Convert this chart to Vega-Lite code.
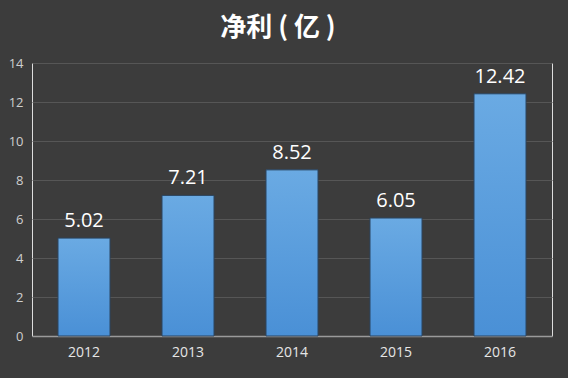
{
  "$schema": "https://vega.github.io/schema/vega-lite/v6.json",
  "autosize": "none",
  "width": 520,
  "height": 273,
  "padding": {"left": 32, "top": 63, "right": 16, "bottom": 42},
  "background": "#3c3c3c",
  "title": {
    "text": "净利 ( 亿 )",
    "font": "Noto Sans CJK SC",
    "fontSize": 26,
    "fontWeight": "bold",
    "color": "#ffffff",
    "anchor": "middle",
    "dx": -14,
    "offset": 16
  },
  "data": {
    "values": [
      {"year": "2012", "profit": 5.02},
      {"year": "2013", "profit": 7.21},
      {"year": "2014", "profit": 8.52},
      {"year": "2015", "profit": 6.05},
      {"year": "2016", "profit": 12.42}
    ]
  },
  "encoding": {
    "x": {
      "field": "year",
      "type": "nominal",
      "scale": {"paddingInner": 0.5, "paddingOuter": 0.25},
      "axis": {
        "title": null,
        "labelAngle": 0,
        "labelColor": "#e6e6e6",
        "labelFont": "Open Sans",
        "labelFontSize": 14,
        "labelPadding": 9,
        "ticks": false,
        "domainColor": "#9a9a9a",
        "domainWidth": 1.5
      }
    },
    "y": {
      "field": "profit",
      "type": "quantitative",
      "scale": {"domain": [0, 14]},
      "axis": {
        "title": null,
        "values": [0, 2, 4, 6, 8, 10, 12, 14],
        "labelColor": "#cfcfcf",
        "labelFont": "Open Sans",
        "labelFontSize": 13,
        "labelPadding": 9,
        "ticks": false,
        "domain": false,
        "gridColor": "#565656",
        "gridWidth": 1
      }
    }
  },
  "layer": [
    {
      "mark": {
        "type": "bar",
        "stroke": "#2b4560",
        "strokeWidth": 1,
        "color": {
          "gradient": "linear",
          "x1": 0, "y1": 0, "x2": 0, "y2": 1,
          "stops": [
            {"offset": 0, "color": "#6aaae3"},
            {"offset": 1, "color": "#4a90d6"}
          ]
        }
      }
    },
    {
      "mark": {
        "type": "text",
        "baseline": "bottom",
        "dy": -7,
        "color": "#ffffff",
        "font": "Open Sans",
        "fontSize": 20
      },
      "encoding": {
        "text": {"field": "profit", "type": "quantitative", "format": ".2f"}
      }
    }
  ]
}
